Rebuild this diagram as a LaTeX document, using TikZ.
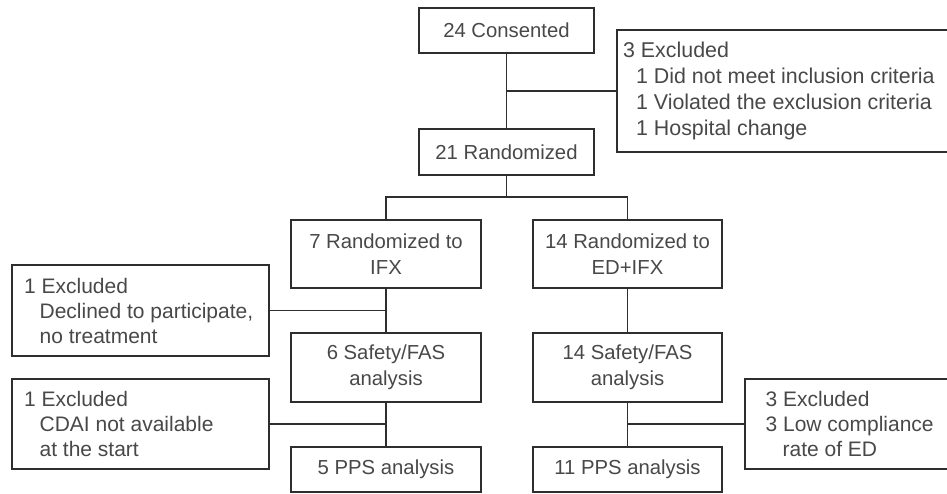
\documentclass[tikz,border=0pt]{standalone}
\usepackage{fontspec}
\setmainfont{Liberation Sans}
\definecolor{linec}{HTML}{2E2E2E}
\definecolor{txtc}{HTML}{484848}
\begin{document}
\begin{tikzpicture}[x=1pt,y=-1pt,
  box/.style={draw=linec,line width=1.2pt,rectangle,inner sep=0pt,align=center,
    text=txtc,font=\fontsize{20.3}{26}\selectfont},
  txtlab/.style={inner sep=0pt,align=left,anchor=west,text=txtc,font=\fontsize{21}{25}\selectfont},
  txtbig/.style={txtlab,font=\fontsize{21.4}{25.7}\selectfont},
  conn/.style={draw=linec,line width=1.2pt}]
\useasboundingbox (0,0) rectangle (947,494);
\clip (0,0) rectangle (947,494);
% main column
\node[box,minimum width=175pt,minimum height=45pt] (cons) at (506.5,30.5) {24 Consented};
\node[box,minimum width=175pt,minimum height=46pt] (rand) at (506.5,152) {21 Randomized};
\node[box,minimum width=335pt,minimum height=122pt] (exA) at (784.5,91) {};
\node[txtbig] (exAt) at ([xshift=6.5pt]exA.west) {3 Excluded\\\hspace*{13pt}1 Did not meet inclusion criteria\\\hspace*{13pt}1 Violated the exclusion criteria\\\hspace*{13pt}1 Hospital change};
% left arm
\node[box,minimum width=190pt,minimum height=68pt] (ifx) at (386,254) {7 Randomized to\\IFX};
\node[box,minimum width=190pt,minimum height=69pt] (safL) at (386,367.5) {6 Safety/FAS\\analysis};
\node[box,minimum width=190pt,minimum height=45pt] (ppsL) at (386,469.5) {5 PPS analysis};
\node[box,minimum width=257pt,minimum height=91pt] (exL1) at (140.5,310.5) {};
\node[txtlab] (exL1t) at ([xshift=12.5pt]exL1.west) {1 Excluded\\\hspace*{15.5pt}Declined to participate,\\\hspace*{15.5pt}no treatment};
\node[box,minimum width=257pt,minimum height=90pt] (exL2) at (140.5,424) {};
\node[txtlab] (exL2t) at ([xshift=12.5pt]exL2.west) {1 Excluded\\\hspace*{15.5pt}CDAI not available\\\hspace*{15.5pt}at the start};
% right arm
\node[box,minimum width=189pt,minimum height=68pt] (edi) at (627.5,254) {14 Randomized to\\ED+IFX};
\node[box,minimum width=189pt,minimum height=69pt] (safR) at (627.5,367.5) {14 Safety/FAS\\analysis};
\node[box,minimum width=189pt,minimum height=45pt] (ppsR) at (627.5,469.5) {11 PPS analysis};
\node[box,minimum width=207pt,minimum height=90pt] (exR) at (848.5,424) {};
\node[txtlab] (exRt) at ([xshift=21pt]exR.west) {3 Excluded\\3 Low compliance\\\hspace*{17pt}rate of ED};
% connectors
\coordinate (br) at (506.5,197);
\draw[conn] (cons) -- (rand);
\draw[conn] (exA.west) -- (exA.west -| cons.south);
\draw[conn] (rand) -- (br);
\draw[conn] (ifx.north) |- (br) -| (edi.north);
\draw[conn] (ifx) -- (safL);
\draw[conn] (safL) -- (ppsL);
\draw[conn] (exL1.east) -- (exL1.east -| ifx.south);
\draw[conn] (exL2.east) -- (exL2.east -| safL.south);
\draw[conn] (edi) -- (safR);
\draw[conn] (safR) -- (ppsR);
\draw[conn] (exR.west) -- (exR.west -| safR.south);
\end{tikzpicture}
\end{document}
